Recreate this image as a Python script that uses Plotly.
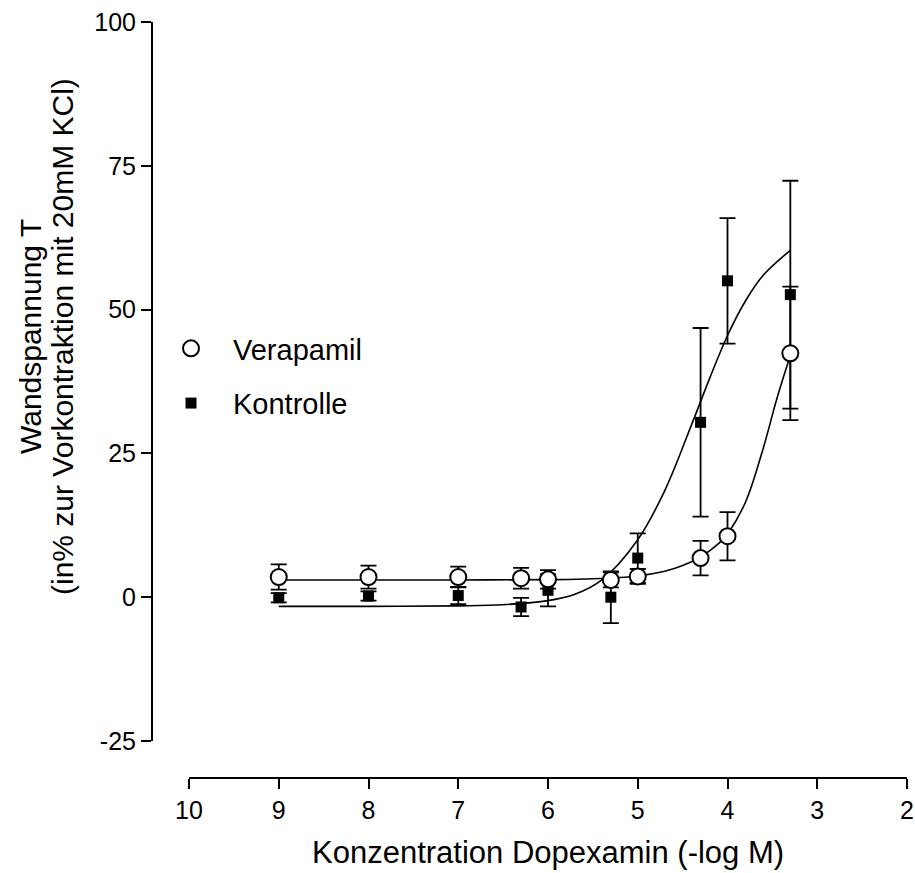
import plotly.graph_objects as go

# ---- data ----
conc = [9, 8, 7, 6.3, 6, 5.3, 5, 4.3, 4, 3.3]
verapamil = [3.5, 3.5, 3.5, 3.3, 3.1, 3.0, 3.6, 6.8, 10.6, 42.4]
verapamil_err = [2.2, 2.0, 1.8, 1.8, 1.6, 1.3, 1.3, 3.0, 4.2, 11.6]
kontrolle = [-0.1, 0.2, 0.3, -1.7, 1.2, 0.0, 6.8, 30.4, 55.0, 52.6]
kontrolle_err = [0.8, 0.8, 1.5, 1.6, 2.8, 4.5, 4.3, 16.4, 10.9, 19.8]

fit_v_x = [9, 8, 7, 6, 5.5, 5, 4.7, 4.5, 4.3, 4.1, 4.0, 3.8, 3.6, 3.45, 3.3]
fit_v_y = [3.0, 3.0, 3.0, 3.05, 3.2, 3.7, 4.5, 5.5, 7.0, 9.3, 11.0, 16.5, 26.0, 34.5, 42.0]
fit_k_x = [9, 8, 7, 6.5, 6, 5.7, 5.4, 5.0, 4.7, 4.4, 4.2, 4.0, 3.8, 3.6, 3.3]
fit_k_y = [-1.6, -1.6, -1.5, -1.3, -0.6, 0.5, 3.0, 10.0, 18.5, 30.0, 38.0, 45.5, 51.5, 56.0, 60.3]

x_ticks = [10, 9, 8, 7, 6, 5, 4, 3, 2]
x_ticklabels = ["10", "9", "8", "7", "6", "5", "4", "3", "2"]
y_ticks = [-25, 0, 25, 50, 75, 100]
y_ticklabels = ["-25", "0", "25", "50", "75", "100"]

FONT = "Liberation Sans, Arial, sans-serif"

fig = go.Figure()

fig.add_trace(go.Scatter(x=fit_k_x, y=fit_k_y, mode="lines", line=dict(color="black", width=1.6, shape="spline"),
                         showlegend=False, hoverinfo="skip"))
fig.add_trace(go.Scatter(x=fit_v_x, y=fit_v_y, mode="lines", line=dict(color="black", width=1.6, shape="spline"),
                         showlegend=False, hoverinfo="skip"))

fig.add_trace(go.Scatter(
    x=conc, y=kontrolle, mode="markers", name="Kontrolle", legendrank=2, legendgroup="k",
    marker=dict(symbol="square", size=11, color="black"),
    error_y=dict(type="data", array=kontrolle_err, color="black", thickness=1.8, width=8),
))
fig.add_trace(go.Scatter(
    x=conc, y=verapamil, mode="markers", name="Verapamil", legendrank=1, legendgroup="v",
    marker=dict(symbol="circle", size=16, color="white", line=dict(color="black", width=2)),
    error_y=dict(type="data", array=verapamil_err, color="black", thickness=1.8, width=8),
))

L, R, T, B = 152, 8, 22, 95
W, H = 915, 873
pw, ph = W - L - R, H - T - B

fig.update_layout(
    width=W, height=H,
    margin=dict(l=L, r=R, t=T, b=B, autoexpand=False),
    plot_bgcolor="white", paper_bgcolor="white",
    font=dict(family=FONT, color="black", size=24),
    xaxis=dict(range=[10, 2], domain=[(189 - L) / pw, 1], tickvals=x_ticks, ticktext=x_ticklabels,
               anchor="free", position=0, showline=True, linecolor="black", linewidth=2,
               ticks="outside", ticklen=10, tickwidth=2, tickcolor="black",
               showgrid=False, zeroline=False, tickfont=dict(size=25), automargin=False),
    yaxis=dict(range=[-25, 100], domain=[(778 - 741) / ph, 1], tickvals=y_ticks, ticktext=y_ticklabels,
               anchor="free", position=0, showline=True, linecolor="black", linewidth=2,
               ticks="outside", ticklen=10, tickwidth=2, tickcolor="black",
               showgrid=False, zeroline=False, tickfont=dict(size=25), automargin=False),
    legend=dict(x=(149 - L) / pw, y=(778 - 323) / ph, xanchor="left", yanchor="top",
                font=dict(size=29), bgcolor="rgba(0,0,0,0)", traceorder="grouped",
                tracegroupgap=14, itemwidth=74),
    showlegend=True,
    annotations=[
        dict(text="Konzentration Dopexamin (-log M)", xref="paper", yref="paper",
             x=(548 - L) / pw, y=(778 - 852) / ph, xanchor="center", yanchor="middle",
             showarrow=False, font=dict(size=31)),
        dict(text="Wandspannung T", xref="paper", yref="paper",
             x=(30 - L) / pw, y=(778 - 337) / ph, xanchor="center", yanchor="middle",
             textangle=-90, showarrow=False, font=dict(size=30)),
        dict(text="(in% zur Vorkontraktion mit 20mM KCl)", xref="paper", yref="paper",
             x=(62 - L) / pw, y=(778 - 337) / ph, xanchor="center", yanchor="middle",
             textangle=-90, showarrow=False, font=dict(size=30)),
    ],
)

fig.write_html("out.html")
